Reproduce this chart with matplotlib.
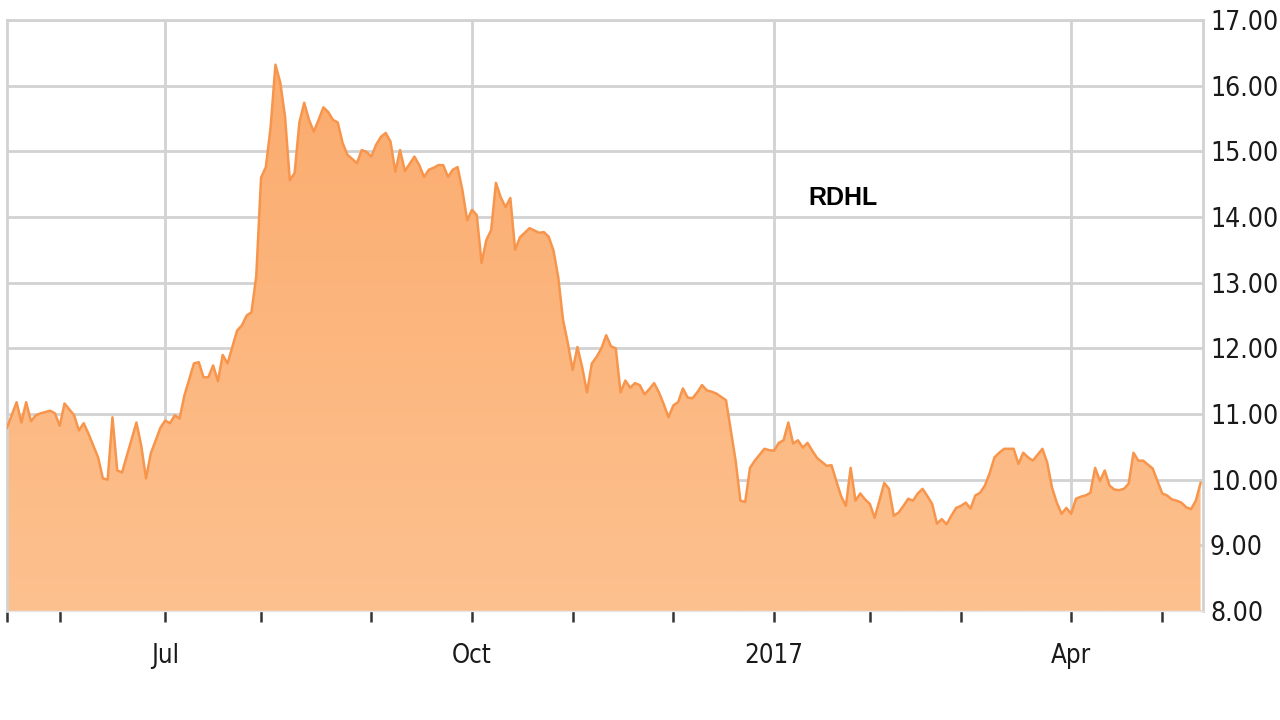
import numpy as np
import matplotlib
matplotlib.use("Agg")
import matplotlib.pyplot as plt
from matplotlib.colors import LinearSegmentedColormap

# ---- data (trading-session index since 2016-05-16, closing price) ----
sessions = [0, 2, 3, 4, 5, 6, 7, 9, 10, 11, 12, 14, 15, 16, 17, 19, 20, 21, 22, 23, 24,
            27, 28, 29, 30, 32, 33, 34, 35, 36, 37, 39, 40, 41, 42, 43, 44, 45, 46, 48,
            49, 50, 51, 52, 53, 54, 55, 56, 57, 58, 59, 60, 61, 62, 63, 64, 65, 66, 67,
            68, 69, 70, 71, 73, 74, 75, 76, 77, 78, 79, 80, 81, 82, 83, 85, 86, 87, 88,
            89, 90, 91, 92, 93, 94, 95, 96, 97, 98, 99, 100, 101, 102, 103, 104, 105,
            106, 107, 108, 109, 111, 112, 113, 114, 115, 116, 117, 118, 119, 120, 121,
            122, 123, 124, 125, 126, 127, 128, 129, 130, 131, 132, 133, 134, 135, 136,
            137, 138, 139, 140, 141, 142, 143, 144, 145, 146, 147, 148, 149, 150, 151,
            152, 153, 154, 155, 156, 157, 158, 159, 160, 161, 162, 163, 164, 165, 166,
            167, 168, 169, 170, 171, 172, 173, 174, 175, 176, 177, 178, 179, 180, 181,
            182, 183, 184, 185, 186, 187, 188, 189, 190, 191, 192, 193, 194, 195, 196,
            197, 198, 199, 200, 201, 202, 203, 204, 205, 206, 207, 208, 209, 210, 211,
            212, 213, 214, 215, 216, 217, 218, 219, 220, 221, 222, 223, 224, 225, 226,
            227, 228, 229, 230, 231, 232, 233, 234, 235, 236, 237, 238, 239, 240, 241,
            242, 243, 244, 245, 246, 247, 248, 249]
prices = [10.79, 11.18, 10.87, 11.18, 10.89, 10.98, 11.01, 11.05, 11.01, 10.82, 11.16,
          10.98, 10.75, 10.86, 10.70, 10.34, 10.02, 10.00, 10.95, 10.14, 10.11,
          10.87, 10.52, 10.02, 10.40, 10.79, 10.90, 10.86, 10.98, 10.93, 11.28, 11.77,
          11.79, 11.56, 11.56, 11.74, 11.50, 11.90, 11.77, 12.27,
          12.35, 12.50, 12.55, 13.10, 14.60, 14.76, 15.37, 16.32, 16.05, 15.53, 14.56,
          14.67, 15.44, 15.74, 15.48, 15.30, 15.48, 15.67, 15.60,
          15.48, 15.44, 15.13, 14.95, 14.82, 15.02, 14.99, 14.92, 15.10, 15.22, 15.28,
          15.15, 14.69, 15.02, 14.70, 14.92, 14.79, 14.61, 14.72,
          14.75, 14.79, 14.79, 14.61, 14.72, 14.76, 14.41, 13.95, 14.11, 14.03, 13.30,
          13.65, 13.80, 14.52, 14.30, 14.15, 14.29,
          13.50, 13.69, 13.76, 13.83, 13.76, 13.77, 13.70, 13.49, 13.08, 12.43, 12.08,
          11.67, 12.02, 11.71, 11.33,
          11.77, 11.87, 12.00, 12.20, 12.03, 12.00, 11.33, 11.51, 11.40, 11.47, 11.44,
          11.30, 11.38, 11.47, 11.33,
          11.15, 10.95, 11.13, 11.18, 11.39, 11.25, 11.24, 11.33, 11.44, 11.36, 11.34,
          11.31, 11.26, 11.21, 10.75,
          10.29, 9.68, 9.66, 10.18, 10.29, 10.38, 10.47, 10.45, 10.44, 10.56, 10.60,
          10.87, 10.55, 10.60, 10.49,
          10.56, 10.44, 10.33, 10.27, 10.21, 10.22, 9.98, 9.75, 9.60, 10.18, 9.68, 9.79,
          9.70, 9.63, 9.42,
          9.68, 9.95, 9.86, 9.45, 9.50, 9.60, 9.71, 9.68, 9.79, 9.86, 9.75, 9.63, 9.33,
          9.40, 9.32,
          9.45, 9.57, 9.60, 9.65, 9.56, 9.76, 9.80, 9.91, 10.10, 10.34, 10.41, 10.47,
          10.47, 10.47, 10.24,
          10.41, 10.34, 10.29, 10.38, 10.47, 10.26, 9.88, 9.65, 9.48, 9.57, 9.48, 9.71,
          9.74, 9.76, 9.80,
          10.18, 9.98, 10.14, 9.91, 9.85, 9.84, 9.86, 9.94, 10.41, 10.29, 10.29, 10.23,
          10.17, 9.98, 9.79,
          9.76, 9.70, 9.68, 9.65, 9.58, 9.55, 9.68, 9.95]

month_ticks = [0, 11, 33, 53, 76, 97, 118, 139, 160, 180, 199, 222, 241]
month_labels = ["", "", "Jul", "", "", "Oct", "", "", "2017", "", "", "Apr", ""]
labeled_months = [33, 97, 160, 222]
y_ticks = [8, 9, 10, 11, 12, 13, 14, 15, 16, 17]
title = "RDHL"

# ---- figure ----
fig = plt.figure(figsize=(12.8, 7.2), dpi=100)
ax = fig.add_axes([7 / 1280, 1 - 611 / 720, (1203 - 7) / 1280, (611 - 20) / 720])

x = np.array(sessions, dtype=float)
y = np.array(prices, dtype=float)

ax.set_xlim(0, 249.5)
ax.set_ylim(8, 17)

grid_c = "#d2d2d2"
for v in y_ticks:
    ax.axhline(v, color=grid_c, lw=2.0, zorder=1)
for m in labeled_months:
    ax.axvline(m, color=grid_c, lw=2.0, zorder=1)

poly = ax.fill_between(x, y, 8, color="none", lw=0, zorder=2)
cmap = LinearSegmentedColormap.from_list("og", ["#fdc18f", "#fbab6d"])
grad = np.linspace(0, 1, 256).reshape(-1, 1)
img = ax.imshow(grad, cmap=cmap, origin="lower", aspect="auto",
                extent=[0, 249.5, 8, 16.4], zorder=2)
path = poly.get_paths()[0]
img.set_clip_path(path, transform=ax.transData)
ax.plot(x, y, color="#f7954c", lw=1.8, zorder=3, solid_joinstyle="round")

for s in ["left", "top", "right"]:
    ax.spines[s].set_color(grid_c)
    ax.spines[s].set_linewidth(2.0)
ax.spines["bottom"].set_color("#e6e6e6")
ax.spines["bottom"].set_linewidth(1.0)

fam = ["DejaVu Sans"]
ax.set_xticks(month_ticks)
ax.set_xticklabels(month_labels, fontsize=18.5, family=fam, fontstretch="condensed",
                   color="#1a1a1a")
ax.tick_params(axis="x", direction="out", length=8, width=1.8, color="#333333",
               pad=15)

ax.yaxis.tick_right()
ax.set_yticks(y_ticks)
ax.set_yticklabels([f"{v:.2f}" for v in y_ticks], fontsize=19, family=fam,
                   fontstretch="condensed", color="#1a1a1a")
ax.tick_params(axis="y", length=0, pad=5)

ax.text(843 / 1280, 1 - 198 / 720, title, transform=fig.transFigure,
        ha="center", va="center", fontsize=18, fontweight="bold",
        family=["Liberation Sans", "DejaVu Sans"], color="black")

fig.savefig("out.png", dpi=100, facecolor="white")
